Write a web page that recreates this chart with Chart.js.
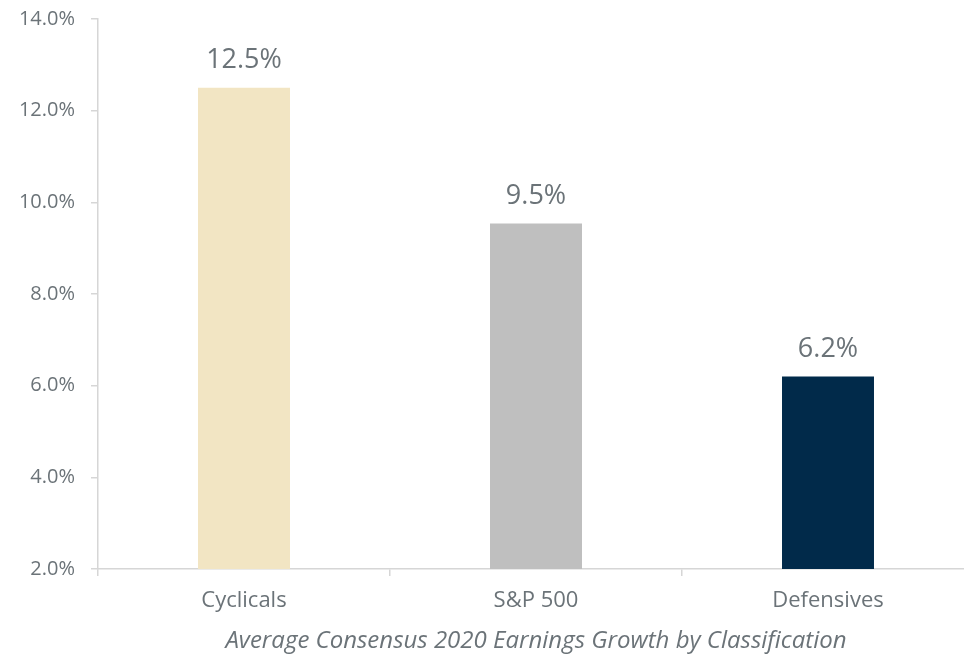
<!DOCTYPE html>
<html><head><meta charset="utf-8">
<script src="https://cdn.jsdelivr.net/npm/chart.js@4"></script>
<style>
html,body{margin:0;padding:0;background:#fff;overflow:hidden;}
#wrap{width:974px;height:656px;position:relative;}
</style></head>
<body><div id="wrap"><canvas id="c"></canvas></div>
<script>
const categories = ["Cyclicals", "S&P 500", "Defensives"];
const growthValues = [12.5, 9.54, 6.2];
const valueLabels = ["12.5%", "9.5%", "6.2%"];
const barColors = ["#f2e5c3", "#bfbfbf", "#012a4a"];
const yTicks = [2, 4, 6, 8, 10, 12, 14];
const axisTitle = "Average Consensus 2020 Earnings Growth by Classification";

const FONT = "'Open Sans', sans-serif";
const TXT = "#6b7378";

const dataLabelPlugin = {
  id: 'dataLabels',
  afterDatasetsDraw(chart) {
    const ctx = chart.ctx;
    const meta = chart.getDatasetMeta(0);
    ctx.save();
    ctx.font = "27px " + FONT;
    ctx.fillStyle = TXT;
    ctx.textAlign = 'center';
    ctx.textBaseline = 'bottom';
    meta.data.forEach((bar, i) => {
      ctx.fillText(valueLabels[i], bar.x, bar.y - 14);
    });
    ctx.restore();
  }
};

new Chart(document.getElementById('c'), {
  type: 'bar',
  data: {
    labels: categories,
    datasets: [{
      data: growthValues,
      backgroundColor: barColors,
      barPercentage: 0.315,
      categoryPercentage: 1
    }]
  },
  options: {
    responsive: true,
    maintainAspectRatio: false,
    animation: false,
    layout: { autoPadding: false, padding: { top: 19, left: 0, right: 0, bottom: 0 } },
    plugins: { legend: { display: false }, tooltip: { enabled: false } },
    scales: {
      y: {
        min: 2, max: 14,
        afterBuildTicks(scale) { scale.ticks = yTicks.map(v => ({ value: v })); },
        afterFit(scale) { scale.width = 98; scale.paddingTop = 0; scale.paddingBottom = 0; },
        border: { color: '#d6d6d6', width: 1.5 },
        grid: { drawOnChartArea: false, color: '#d6d6d6', tickLength: 7, lineWidth: 1.5 },
        ticks: {
          padding: 16,
          color: TXT,
          font: { family: FONT, size: 20 },
          callback: v => v.toFixed(1) + '%'
        }
      },
      x: {
        afterFit(scale) { scale.height = 87; },
        border: { color: '#d6d6d6', width: 1.5 },
        grid: { drawOnChartArea: false, color: '#d6d6d6', tickLength: 7, lineWidth: 1.5, offset: true },
        ticks: {
          padding: 12,
          color: TXT,
          font: { family: FONT, size: 22 }
        },
        title: {
          display: true,
          text: axisTitle,
          color: TXT,
          font: { family: FONT, size: 24, style: 'italic' },
          padding: { top: 4, bottom: 0 }
        }
      }
    }
  },
  plugins: [dataLabelPlugin]
});
</script></body></html>
